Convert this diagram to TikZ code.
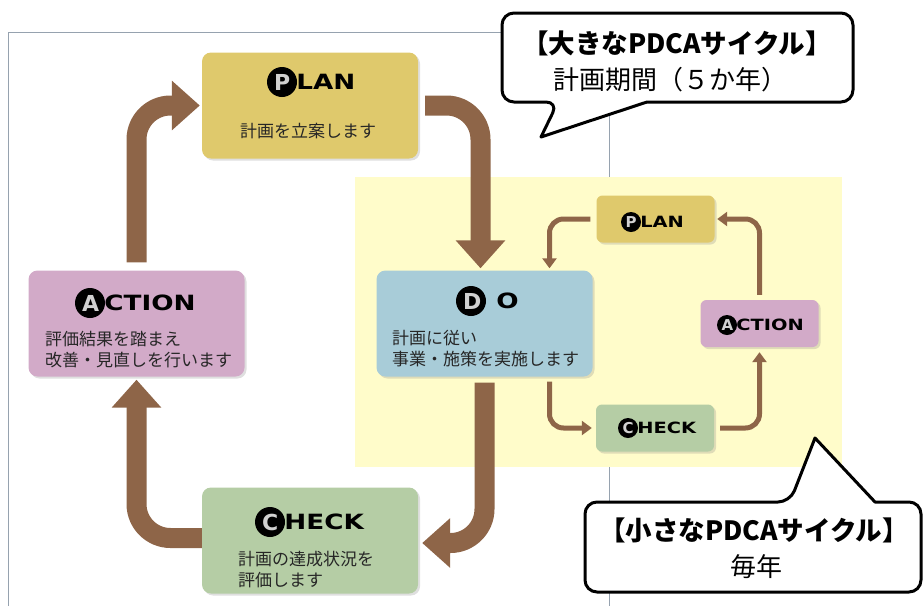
\documentclass[tikz,border=0pt]{standalone}
\usepackage{fontspec}
\usepackage{tikz}
\usetikzlibrary{arrows.meta,positioning,shadows}

\newfontfamily\jpfont{Noto Sans CJK JP}
\newfontfamily\capsfont[FakeStretch=1.25]{DejaVu Sans}
\newfontfamily\ballfont{DejaVu Sans}

\definecolor{plancol}{RGB}{223,201,108}
\definecolor{actcol}{RGB}{210,170,200}
\definecolor{docol}{RGB}{168,204,216}
\definecolor{chkcol}{RGB}{181,205,165}
\definecolor{bgyellow}{RGB}{255,252,202}
\definecolor{arrowbrown}{RGB}{142,101,72}
\definecolor{framegray}{RGB}{150,162,175}

% circled letter followed by the rest of the word
\newcommand{\headline}[5]{%
  \node[#1ball] (#2l) at #3 {#4};
  \node[#1caps, right=-1pt of #2l] (#2w) {#5};}

\begin{document}
\begin{tikzpicture}[x=1pt,y=-1pt,
    bigbox/.style={rectangle,rounded corners=9pt,minimum width=216pt,minimum height=106pt,
                   drop shadow={opacity=0.25,shadow xshift=2pt,shadow yshift=-2pt}},
    smallbox/.style={bigbox,minimum width=118pt,minimum height=47pt,rounded corners=6pt},
    bigball/.style={circle,fill=black,inner sep=0pt,minimum size=30pt,text=black!18,
                    font=\ballfont\bfseries\fontsize{22}{22}\selectfont,text height=16pt,text depth=0pt,
                    text width=16pt,align=center},
    smallball/.style={bigball,minimum size=20pt,font=\ballfont\bfseries\fontsize{15}{15}\selectfont,
                      text height=10.9pt,text width=11pt},
    bigcaps/.style={inner sep=0pt,font=\capsfont\bfseries\fontsize{21}{21}\selectfont,
                    text height=15.3pt,text depth=0pt},
    smallcaps/.style={bigcaps,font=\capsfont\bfseries\fontsize{15.5}{15.5}\selectfont,text height=11.3pt},
    boxtext/.style={inner sep=0pt,align=left,text=black!85,font=\jpfont\fontsize{17}{21}\selectfont},
    bigarrow/.style={draw=arrowbrown,line width=20pt,rounded corners=34pt,
                     -{Triangle[width=48pt,length=28pt]}},
    smallarrow/.style={draw=arrowbrown,line width=5pt,rounded corners=14pt,
                       -{Triangle[width=14pt,length=10pt]}},
    callout/.style={draw=black,line width=3pt,fill=white,line join=round},
    calltext/.style={inner sep=0pt,align=center,font=\jpfont\fontsize{26}{37}\selectfont}]

  \useasboundingbox (0,0) rectangle (924,606);

  % frame and the yearly area
  \draw[framegray,line width=1pt] (8,606) -- (8,32) -- (609,32) -- (609,606);
  \fill[bgyellow] (355,177) rectangle (842,467);

  % big cycle
  \node[bigbox,fill=plancol] (plan)  at (310,105.5) {};
  \node[bigbox,fill=docol]   (do)    at (484.5,323.5) {};
  \node[bigbox,fill=chkcol]  (check) at (310,540.5) {};
  \node[bigbox,fill=actcol]  (act)   at (136.5,323.5) {};

  \headline{big}{planh}{(282,82)}{P}{LAN}
  \node[bigball] (dohl) at (471,301) {D};
  \node[bigcaps, right=10pt of dohl] (dohw) {O};
  \headline{big}{checkh}{(270,522)}{C}{HECK}
  \headline{big}{acth}{(90,303)}{A}{CTION}

  \node[boxtext] (plantext) at (308,131) {計画を立案します};
  \node[boxtext,anchor=west] (dotext) at (392,349) {計画に従い\\事業・施策を実施します};
  \node[boxtext,anchor=west] (checktext) at (238,570) {計画の達成状況を\\評価します};
  \node[boxtext,anchor=west] (acttext) at (45,350) {評価結果を踏まえ\\改善・見直しを行います};

  \draw[bigarrow] ([yshift=8pt]act.north) |- ([xshift=-2pt]plan.west);
  \draw[bigarrow] ([xshift=7pt]plan.east) -| ([xshift=-4pt,yshift=2pt]do.north);
  \draw[bigarrow] ([yshift=-6pt]do.south) |- ([xshift=4pt,yshift=-2.5pt]check.east);
  \draw[bigarrow] ([yshift=2.5pt]check.west) -| ([yshift=-3pt]act.south);

  % small cycle
  \node[smallbox,fill=plancol] (splan)  at (655.5,219) {};
  \node[smallbox,fill=chkcol]  (scheck) at (655,428) {};
  \node[smallbox,fill=actcol]  (sact)   at (759.5,323.5) {};

  \headline{small}{splanh}{(631,222)}{P}{LAN}
  \headline{small}{scheckh}{(628,428)}{C}{HECK}
  \headline{small}{sacth}{(727,325)}{A}{CTION}

  \draw[smallarrow] ([xshift=-6pt]splan.west) -| ([xshift=65pt,yshift=2pt]do.north);
  \draw[smallarrow] ([xshift=65pt,yshift=-5pt]do.south) |- ([xshift=-4pt]scheck.west);
  \draw[smallarrow] ([xshift=6pt]scheck.east) -| ([yshift=-5pt]sact.south);
  \draw[smallarrow] ([yshift=5pt]sact.north) |- ([xshift=2.5pt]splan.east);

  % callouts
  \draw[callout] (558,102) -- (541,137) -- (647,102) [rounded corners=12pt]
    -- (853,102) -- (853,13) -- (502,13) -- (502,102) -- cycle;
  \node[calltext,font=\jpfont\bfseries\fontsize{26.5}{37}\selectfont] (bigname) at (677,43) {【大きなPDCAサイクル】};
  \node[calltext] (bigterm) at (670,80) {計画期間（５か年）};

  \draw[callout] (790,502) -- (815,438) -- (875,502) [rounded corners=12pt]
    -- (921,502) -- (921,592) -- (585,592) -- (585,502) -- cycle;
  \node[calltext,font=\jpfont\bfseries\fontsize{26.5}{37}\selectfont] (smallname) at (754,530) {【小さなPDCAサイクル】};
  \node[calltext] (smallterm) at (756,567) {毎年};
\end{tikzpicture}
\end{document}
